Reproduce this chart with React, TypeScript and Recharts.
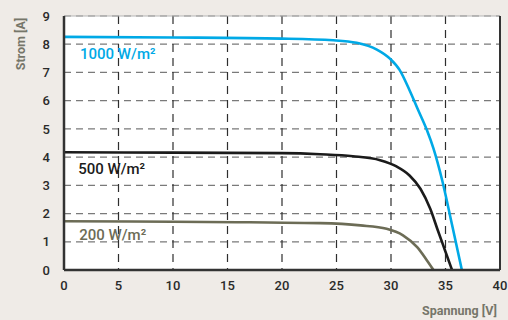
import React from 'react';
import { LineChart, Line, XAxis, YAxis, CartesianGrid, ReferenceLine, ReferenceDot, Label } from 'recharts';

const xTicks = [0, 5, 10, 15, 20, 25, 30, 35, 40];
const yTicks = [0, 1, 2, 3, 4, 5, 6, 7, 8, 9];

const v1000 = [0, 10, 20, 24.7, 26.85, 28.7, 29.9, 30.8, 31.7, 32.5, 33.3, 33.9, 34.7, 35.6, 36.5];
const i1000 = [8.26, 8.24, 8.2, 8.14, 8.05, 7.81, 7.49, 7.08, 6.37, 5.66, 4.95, 4.3, 3.17, 1.6, 0];

const v500 = [0, 10, 20, 23.5, 26.5, 29.0, 30.5, 31.7, 32.7, 33.6, 34.3, 34.95, 35.6];
const i500 = [4.17, 4.16, 4.14, 4.1, 4.03, 3.89, 3.67, 3.35, 2.88, 2.17, 1.4, 0.7, 0];

const v200 = [0, 10, 17, 23.5, 27.2, 29.6, 31.1, 32.4, 33.3, 33.9];
const i200 = [1.73, 1.71, 1.69, 1.66, 1.58, 1.46, 1.23, 0.81, 0.34, 0];

const labels = ['1000 W/m²', '500 W/m²', '200 W/m²'];
const labelPos = [
  { v: 1.47, i: 7.68 },
  { v: 1.3, i: 3.6 },
  { v: 1.4, i: 1.26 },
];

const colors = ['#00A9E6', '#1b1b1b', '#6c6c56'];

const zip = (vs: number[], is: number[]) => vs.map((v, k) => ({ v, i: is[k] }));
const d1000 = zip(v1000, i1000);
const d500 = zip(v500, i500);
const d200 = zip(v200, i200);
const series = [d1000, d500, d200];

const tickStyle = { fontFamily: 'Roboto, sans-serif', fontSize: 13, fontWeight: 500, fill: '#2a2a2a' };
const titleStyle: React.CSSProperties = {
  position: 'absolute',
  fontFamily: 'Roboto, sans-serif',
  fontSize: 12.5,
  fontWeight: 700,
  color: '#76766a',
  whiteSpace: 'nowrap',
};

export default function App() {
  return (
    <div style={{ position: 'fixed', left: 0, top: 0, width: 508, height: 320, background: '#EFEBE7' }}>
      <LineChart width={508} height={320} margin={{ top: 16, right: 8, bottom: 20, left: 0 }}>
        <CartesianGrid horizontal vertical={false} stroke="#7a7a7a" strokeDasharray="7 5" strokeWidth={1.2} fill="#ffffff" />
        <CartesianGrid horizontal={false} vertical stroke="#2e2e2e" strokeDasharray="8 6" strokeWidth={1.2} />
        <XAxis
          type="number"
          dataKey="v"
          domain={[0, 40]}
          ticks={xTicks}
          interval={0}
          tickLine={false}
          tickSize={0}
          tickMargin={11}
          height={30}
          axisLine={{ stroke: '#333', strokeWidth: 2.5 }}
          tick={tickStyle}
        />
        <YAxis
          type="number"
          dataKey="i"
          domain={[0, 9]}
          ticks={yTicks}
          interval={0}
          tickLine={false}
          tickSize={0}
          tickMargin={14}
          width={64}
          axisLine={{ stroke: '#333', strokeWidth: 2.5 }}
          tick={tickStyle}
        />
        <ReferenceLine y={9} stroke="#b5b5b5" strokeWidth={1} />
        <ReferenceLine x={40} stroke="#333" strokeWidth={2} />
        {series.map((d, k) => (
          <Line
            key={k}
            data={d}
            dataKey="i"
            type="monotone"
            stroke={colors[k]}
            strokeWidth={2.6}
            dot={false}
            isAnimationActive={false}
          />
        ))}
        {labels.map((t, k) => (
          <ReferenceDot key={t} x={labelPos[k].v} y={labelPos[k].i} r={0} stroke="none" fill="none">
            <Label
              value={t}
              position="right"
              offset={0}
              fill={colors[k]}
              style={{ fontFamily: 'Roboto, sans-serif', fontSize: 15, fontWeight: 500 }}
            />
          </ReferenceDot>
        ))}
      </LineChart>
      <div style={{ ...titleStyle, left: 20, top: 44, transform: 'translate(-50%, -50%) rotate(-90deg)' }}>Strom [A]</div>
      <div style={{ ...titleStyle, right: 11, top: 303 }}>Spannung [V]</div>
    </div>
  );
}
